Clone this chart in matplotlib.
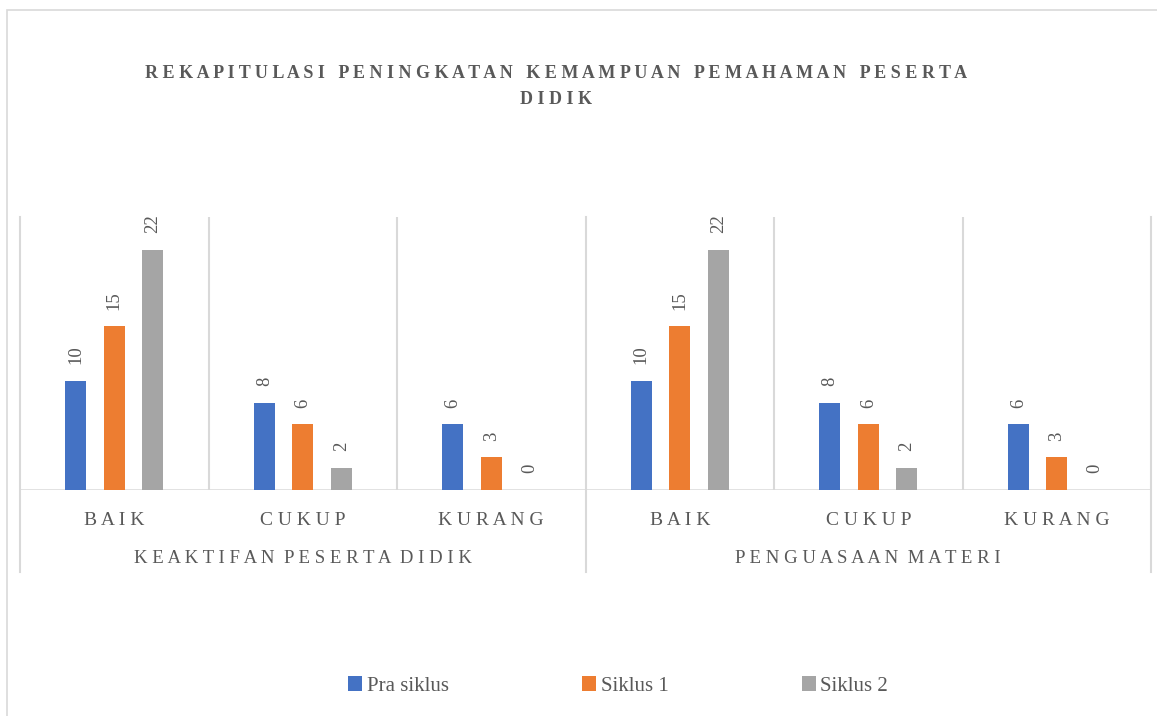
import numpy as np
import matplotlib.pyplot as plt
from matplotlib.patches import Rectangle

# Data
groups = ['KEAKTIFAN PESERTA DIDIK', 'PENGUASAAN MATERI']
levels = ['BAIK', 'CUKUP', 'KURANG']
series = ['Pra siklus', 'Siklus 1', 'Siklus 2']
pra_siklus = [10, 8, 6, 10, 8, 6]
siklus_1 = [15, 6, 3, 15, 6, 3]
siklus_2 = [22, 2, 0, 22, 2, 0]

colors = ['#4472C4', '#ED7D31', '#A5A5A5']
grid_c = '#D9D9D9'
text_c = '#595959'
W, H = 1157, 716

def spaced(s, gap=' '):
    # mimic letter spacing of the original
    return gap.join('' if ch == ' ' else ch for ch in s)

plt.rcParams['font.family'] = ['Liberation Serif', 'DejaVu Serif']

fig = plt.figure(figsize=(W / 100, H / 100), dpi=100)
# outer chart border
fig.patches.append(Rectangle((7 / W, -0.1), 1.2, (H - 10) / H + 0.1,
                             transform=fig.transFigure, fill=False,
                             edgecolor=grid_c, linewidth=1.2))

ax = fig.add_axes([20 / W, (H - 490) / H, (1151 - 20) / W, (490 - 217) / H])
ax.set_xlim(0, 6)
ax.set_ylim(0, 25)
for s in ax.spines.values():
    s.set_visible(False)
ax.set_xticks([])
ax.set_yticks([])

x = np.arange(6) + 0.5
step = 0.204
width = 0.112
for k, vals in enumerate([pra_siklus, siklus_1, siklus_2]):
    xs = x + (k - 1) * step
    bars = ax.bar(xs, vals, width=width, color=colors[k], label=series[k], zorder=3)
    for b, v in zip(bars, vals):
        ax.annotate(str(v), (b.get_x() + b.get_width() / 2, v),
                    xytext=(0, 12), textcoords='offset points',
                    rotation=90, ha='center', va='bottom',
                    fontsize=13.5, color=text_c)

# baseline and dividers
ax.axhline(0, color=grid_c, linewidth=1.8, zorder=2)
for d in [1, 2, 4, 5]:
    ax.axvline(d, color=grid_c, linewidth=1.5, zorder=1)
for d in [0, 3, 6]:
    ax.axvline(d, ymin=-0.30, ymax=1, color=grid_c, linewidth=1.5,
               clip_on=False, zorder=1)

# category labels
for i, xc in enumerate(x):
    ax.text(xc, -0.11, spaced(levels[i % 3]), transform=ax.get_xaxis_transform(),
            ha='center', va='center', fontsize=14, color=text_c)
for g, name in enumerate(groups):
    ax.text(1.5 + 3 * g, -0.25, spaced(name), transform=ax.get_xaxis_transform(),
            ha='center', va='center', fontsize=13.5, color=text_c)

# title
title_lines = ['REKAPITULASI PENINGKATAN KEMAMPUAN PEMAHAMAN PESERTA', 'DIDIK']
fig.text(556 / W, 1 - 73 / H, ' '.join(title_lines[0]),
         ha='center', va='center', fontsize=13, fontweight='bold', color=text_c)
fig.text(556 / W, 1 - 99 / H, ' '.join(title_lines[1]),
         ha='center', va='center', fontsize=13, fontweight='bold', color=text_c)

# legend
leg = fig.legend(loc='center', bbox_to_anchor=(618 / W, 1 - 686 / H), ncol=3,
                 frameon=False, fontsize=15, handlelength=0.7, handleheight=0.7,
                 handletextpad=0.2, columnspacing=6.4)
for t in leg.get_texts():
    t.set_color(text_c)

fig.savefig('out.png', dpi=100)
